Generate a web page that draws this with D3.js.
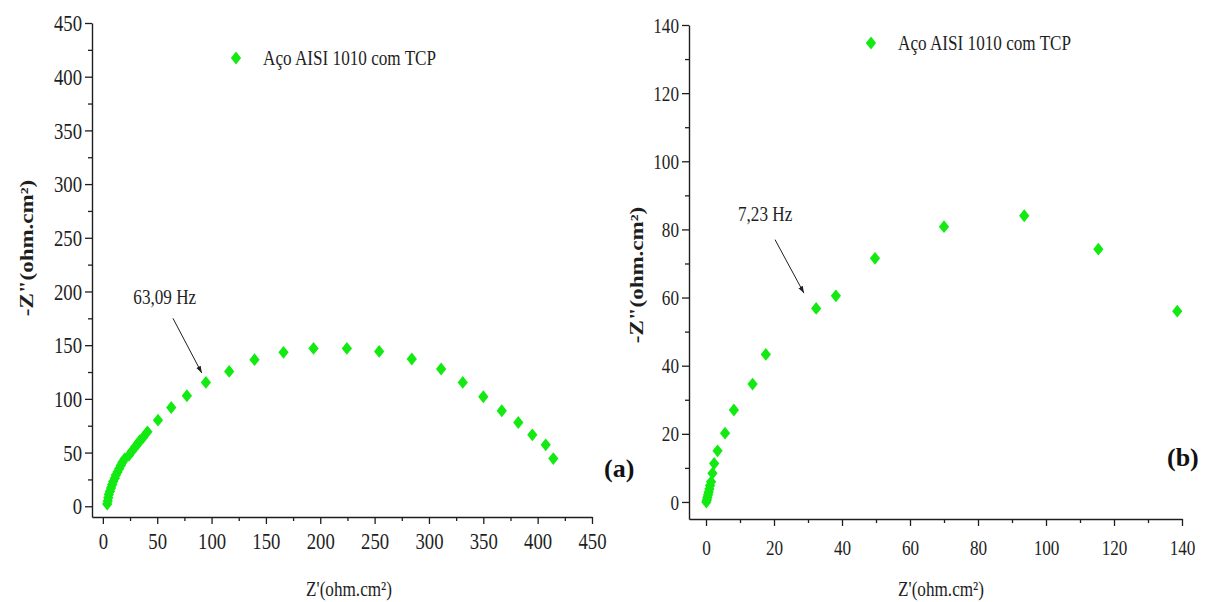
<!DOCTYPE html>
<html>
<head>
<meta charset="utf-8">
<script src="https://cdn.jsdelivr.net/npm/d3@7"></script>
<style>
  body { margin: 0; background: #fff; }
  svg { display: block; }
</style>
</head>
<body>
<div id="chart"></div>
<script>
// Nyquist data, panel (a): full frequency range
const zReA = [4, 4.5, 5, 5.5, 6.5, 7.5, 8.5, 9.5, 11, 12, 13.5, 15, 16.5, 18, 20,
  24, 27, 29.5, 32, 34, 37, 41, 50.7, 62.9, 77.3, 94.8, 116.2, 139.5, 166.2, 193.8,
  224.5, 254.2, 284.2, 311.2, 331.1, 350, 367, 382.2, 395.1, 407.4, 414.4];
const zImA = [2, 5, 8, 11, 14, 17, 20, 23, 26, 29, 32, 35, 38, 41, 44,
  47.5, 51.5, 55, 58, 61, 64, 69.3, 80.2, 92, 102.9, 115.3, 125.6, 136.5, 143.3, 147,
  147, 144.2, 137.1, 127.8, 115.3, 102, 88.9, 78, 66.5, 57.2, 44.4];

// panel (b): zoom on the low impedance region
const zReB = [0.1, 0.25, 0.4, 0.6, 0.8, 1.0, 1.2, 1.5, 1.9, 2.4, 3.4, 5.6, 8.2,
  13.7, 17.6, 32.4, 38.2, 49.7, 70, 93.6, 115.4, 138.6];
const zImB = [0, 0.6, 1.3, 2.1, 2.9, 3.8, 4.8, 5.9, 8.4, 11.3, 15, 20.2, 27,
  34.6, 43.3, 56.8, 60.5, 71.5, 80.8, 84, 74.2, 56];

const ticksA = [0, 50, 100, 150, 200, 250, 300, 350, 400, 450];
const minorA = [25, 75, 125, 175, 225, 275, 325, 375, 425];
const ticksB = [0, 20, 40, 60, 80, 100, 120, 140];
const minorB = [10, 30, 50, 70, 90, 110, 130];

const seriesName = "Aço AISI 1010 com TCP";
const xTitle = "Z'(ohm.cm²)";
const yTitle = '-Z"(ohm.cm²)';

const width = 1205;
const height = 602;
const SX = 0.78; // the source figure is squeezed horizontally
const FONT = "'Liberation Serif', 'Times New Roman', serif";
const GREEN = "#12ea12";
const INK = "#1e1e1e";

const svg = d3.select("#chart").append("svg")
  .attr("width", width)
  .attr("height", height)
  .attr("font-family", FONT);

const panels = [
  {
    zre: zReA, zim: zImA, ticks: ticksA, minor: minorA,
    domain: [-10, 450], xRange: [92, 592], yRange: [517, 23],
    fontSize: 24, xPad: 8, yPad: 3,
    legend: [236, 58], xTitlePos: [349, 596], yTitlePos: [26, 248],
    tag: "(a)", tagPos: [604, 477],
    note: "63,09 Hz", noteText: [28, 188], arrow: [[64.5, 175], [91, 124]]
  },
  {
    zre: zReB, zim: zImB, ticks: ticksB, minor: minorB,
    domain: [-5, 140], xRange: [689, 1182], yRange: [519, 25],
    fontSize: 22, xPad: 13, yPad: 3,
    legend: [871, 43], xTitlePos: [941, 596], yTitlePos: [636, 275],
    tag: "(b)", tagPos: [1167, 466],
    note: "7,23 Hz", noteText: [9.4, 82.5], arrow: [[20.3, 77], [28.8, 61.3]]
  }
];

svg.append("defs").append("marker")
  .attr("id", "arrow")
  .attr("viewBox", "0 0 10 10")
  .attr("refX", 10).attr("refY", 5)
  .attr("markerWidth", 7).attr("markerHeight", 7)
  .attr("markerUnits", "userSpaceOnUse")
  .attr("orient", "auto")
  .append("path")
  .attr("d", "M0,1.5L10,5L0,8.5Z")
  .attr("fill", INK);

const diamond = d3.symbol().type(d3.symbolDiamond2).size(105);

panels.forEach((p) => {
  const x = d3.scaleLinear().domain(p.domain).range(p.xRange);
  const y = d3.scaleLinear().domain(p.domain).range(p.yRange);
  const g = svg.append("g");

  const styleAxis = (sel) => {
    sel.attr("font-family", FONT).attr("font-size", p.fontSize);
    sel.select(".domain").attr("stroke", INK).attr("stroke-width", 1.4);
    sel.selectAll(".tick line").attr("stroke", INK).attr("stroke-width", 1.3);
    sel.selectAll(".tick text").attr("fill", INK);
  };

  // x axis, major + minor
  const xAxis = g.append("g")
    .attr("transform", `translate(0,${p.yRange[0]})`)
    .call(d3.axisBottom(x).tickValues(p.ticks).tickSize(7).tickSizeOuter(0)
      .tickPadding(p.xPad).tickFormat(d3.format("d")))
    .call(styleAxis);
  xAxis.selectAll(".tick text").attr("transform", `scale(${SX},1)`);

  g.append("g")
    .attr("transform", `translate(0,${p.yRange[0]})`)
    .call(d3.axisBottom(x).tickValues(p.minor).tickSize(4).tickSizeOuter(0).tickFormat(""))
    .call(styleAxis)
    .select(".domain").remove();

  // y axis, major + minor
  const yAxis = g.append("g")
    .attr("transform", `translate(${p.xRange[0]},0)`)
    .call(d3.axisLeft(y).tickValues(p.ticks).tickSize(7).tickSizeOuter(0)
      .tickPadding(p.yPad).tickFormat(d3.format("d")))
    .call(styleAxis);
  yAxis.selectAll(".tick text")
    .attr("x", -(7 + p.yPad) / SX)
    .attr("transform", `scale(${SX},1)`);

  g.append("g")
    .attr("transform", `translate(${p.xRange[0]},0)`)
    .call(d3.axisLeft(y).tickValues(p.minor).tickSize(4).tickSizeOuter(0).tickFormat(""))
    .call(styleAxis)
    .select(".domain").remove();

  // points
  const pts = p.zre.map((v, i) => ({ re: v, im: p.zim[i] }));
  g.append("g")
    .selectAll("path")
    .data(pts)
    .join("path")
    .attr("d", diamond)
    .attr("fill", GREEN)
    .attr("transform", (d) => `translate(${x(d.re)},${y(d.im)}) scale(0.8,1)`);

  // legend
  g.append("path")
    .attr("d", diamond)
    .attr("fill", GREEN)
    .attr("transform", `translate(${p.legend[0]},${p.legend[1]}) scale(0.8,1)`);
  g.append("text")
    .attr("transform", `translate(${p.legend[0] + 27},${p.legend[1] + 7}) scale(${SX},1)`)
    .attr("font-size", 22)
    .attr("fill", INK)
    .text(seriesName);

  // axis titles
  g.append("text")
    .attr("transform", `translate(${p.xTitlePos[0]},${p.xTitlePos[1]}) scale(${SX},1)`)
    .attr("text-anchor", "middle")
    .attr("font-size", 22)
    .attr("fill", INK)
    .text(xTitle);

  g.append("text")
    .attr("transform", `translate(${p.yTitlePos[0] + 7},${p.yTitlePos[1]}) rotate(-90) scale(1,${SX})`)
    .attr("text-anchor", "middle")
    .attr("font-size", 23)
    .attr("font-weight", "bold")
    .attr("fill", INK)
    .text(yTitle);

  // frequency annotation
  g.append("text")
    .attr("transform", `translate(${x(p.noteText[0])},${y(p.noteText[1])}) scale(${SX},1)`)
    .attr("font-size", 22)
    .attr("fill", INK)
    .text(p.note);

  g.append("line")
    .attr("x1", x(p.arrow[0][0])).attr("y1", y(p.arrow[0][1]))
    .attr("x2", x(p.arrow[1][0])).attr("y2", y(p.arrow[1][1]))
    .attr("stroke", INK)
    .attr("stroke-width", 1)
    .attr("marker-end", "url(#arrow)");

  // panel tag
  g.append("text")
    .attr("x", p.tagPos[0]).attr("y", p.tagPos[1])
    .attr("font-size", 26)
    .attr("font-weight", "bold")
    .attr("fill", "#111")
    .text(p.tag);
});
</script>
</body>
</html>
